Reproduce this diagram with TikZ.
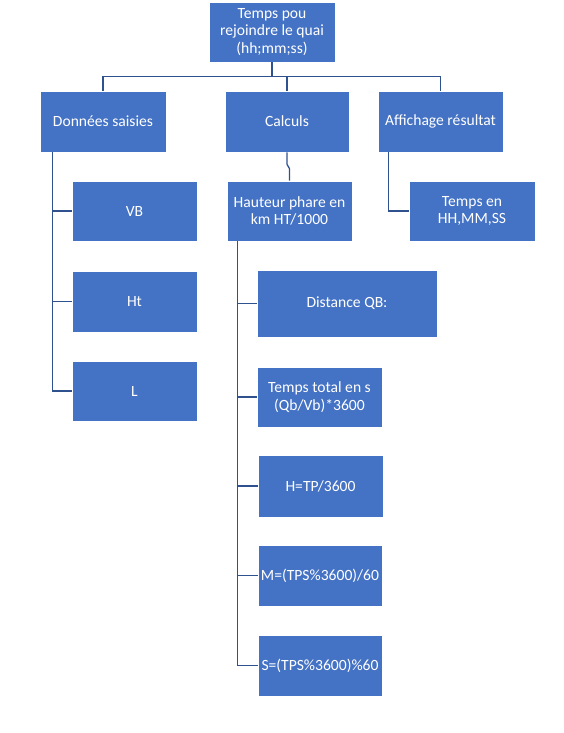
\documentclass[tikz,border=0pt]{standalone}
\usepackage{fontspec}
\setmainfont{Carlito}
\usetikzlibrary{calc}
\definecolor{boxblue}{HTML}{4472C4}
\definecolor{linkblue}{HTML}{2F528F}
\newcommand\bxnode[6]{\node[bx,minimum width={(#4-#2)*1pt},minimum height={(#5-#3)*1pt}] (#1) at ({(#2+#4)/2},{(#3+#5)/2}) {#6};}
\begin{document}
\begin{tikzpicture}[x=1pt,y=-1pt,
  bx/.style={rectangle, fill=boxblue, draw=white, line width=0.6pt, text=white, align=center, font=\fontsize{15.6}{17.5}\selectfont, inner sep=0pt},
  link/.style={draw=linkblue, line width=1.3pt}]
\fill[white] (0,0) rectangle (563,733);
\useasboundingbox (0,0) rectangle (563,733);
\bxnode{top}{209}{2}{335}{62}{Temps pou\\rejoindre le quai\\(hh;mm;ss)}
\bxnode{don}{40}{91}{166}{152}{Données saisies}
\bxnode{calc}{225}{91}{349}{152}{Calculs}
\bxnode{aff}{378}{91}{503}{152}{Affichage résultat}
\bxnode{vb}{72}{181}{197}{241}{VB}
\bxnode{htb}{72}{271}{197}{332}{Ht}
\bxnode{lb}{72}{361}{197}{421}{L}
\bxnode{haut}{227}{181}{352}{241}{Hauteur phare en\\km HT/1000}
\bxnode{temps}{409}{181}{535}{241}{Temps en\\HH,MM,SS}
\bxnode{dist}{257}{270}{437}{337}{Distance QB:}
\bxnode{ttot}{257}{367}{382}{427}{Temps total en s\\(Qb/Vb)*3600}
\bxnode{hh}{258}{455}{383}{517}{H=TP/3600}
\bxnode{mm}{258}{545}{382}{606}{M=(TPS\%3600)/60}
\bxnode{ss}{258}{635}{382}{696}{S=(TPS\%3600)\%60}
\draw[link] (top.south) -- ++(0,14) coordinate (hub);
\draw[link] (hub) -| (don.north);
\draw[link] (hub) -| (calc.north);
\draw[link] (hub) -| (aff.north);
\draw[link] (calc.south) -- ++(0,12) -- ($(haut.north)+(0,-12)$) -- (haut.north);
\foreach \c in {vb,htb,lb}{\draw[link] ([xshift=13pt]don.south west) |- (\c.west);}
\draw[link] ([xshift=11pt]aff.south west) |- (temps.west);
\foreach \c in {dist,ttot,hh,mm,ss}{\draw[link] ([xshift=11pt]haut.south west) |- (\c.west);}
\end{tikzpicture}
\end{document}
